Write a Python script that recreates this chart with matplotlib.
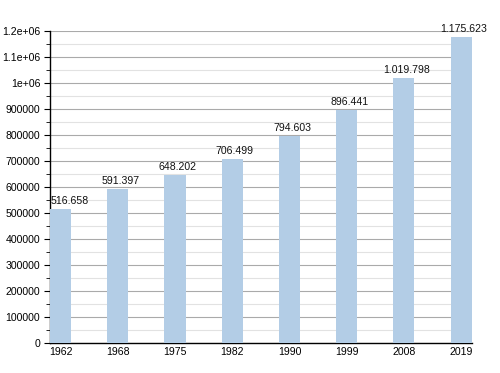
import matplotlib
matplotlib.use("Agg")
import matplotlib.pyplot as plt
from matplotlib.ticker import MultipleLocator, FuncFormatter

years = ["1962", "1968", "1975", "1982", "1990", "1999", "2008", "2019"]
population = [516658, 591397, 648202, 706499, 794603, 896441, 1019798, 1175623]
labels = ["516.658", "591.397", "648.202", "706.499", "794.603", "896.441", "1.019.798", "1.175.623"]

plt.rcParams['font.family'] = ['Liberation Sans', 'DejaVu Sans']

fig = plt.figure(figsize=(5, 3.73), dpi=100)
ax = fig.add_axes([0.1, 0.080, 0.844, 0.837])

x = list(range(len(years)))
ax.bar(x, population, width=0.37, color='#b3cde6', zorder=3)
for i, (xi, v, lab) in enumerate(zip(x, population, labels)):
    dx = 9 if i == 0 else 2.5
    ax.annotate(lab, (xi, v), xytext=(dx, 3), textcoords='offset pixels',
                ha='center', va='bottom', fontsize=7.6, color='#111111', zorder=4)

ax.set_xlim(-0.185, 7.19)
ax.set_ylim(0, 1200000)
ax.set_xticks(x)
ax.set_xticklabels(years, fontsize=7.6)
ax.tick_params(axis='x', length=0, pad=3)

ax.yaxis.set_major_locator(MultipleLocator(100000))
ax.yaxis.set_minor_locator(MultipleLocator(50000))

def fmt(v, pos):
    v = int(round(v))
    if v >= 1000000:
        return "%g" % v
    return str(v)
ax.yaxis.set_major_formatter(FuncFormatter(fmt))
ax.tick_params(axis='y', which='major', length=4, labelsize=7.6, pad=3)
ax.tick_params(axis='y', which='minor', length=3)

ax.grid(axis='y', which='major', color='#aaaaaa', linewidth=0.8, zorder=0)
ax.grid(axis='y', which='minor', color='#e2e2e2', linewidth=0.8, zorder=0)
ax.set_axisbelow(True)

for s in ['top', 'right']:
    ax.spines[s].set_visible(False)
ax.spines['left'].set_linewidth(1.0)
ax.spines['bottom'].set_linewidth(1.0)

fig.savefig("out.png", dpi=100)
